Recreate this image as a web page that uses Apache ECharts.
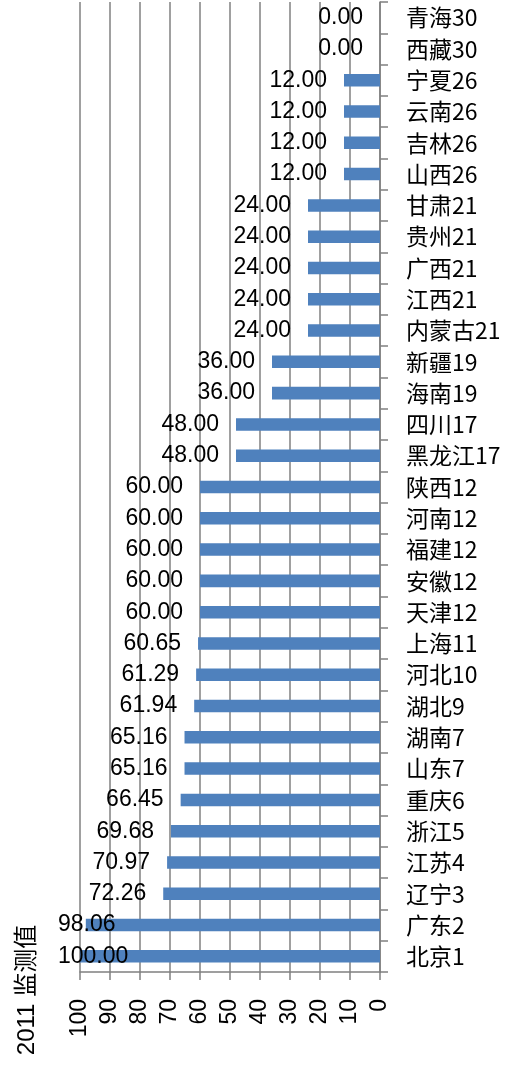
<!DOCTYPE html>
<html><head><meta charset="utf-8">
<script src="https://cdn.jsdelivr.net/npm/echarts@6/dist/echarts.min.js"></script>
<style>html,body{margin:0;padding:0;background:#fff}#c{width:512px;height:1077px}</style>
</head><body><div id="c"></div>
<script>
// bottom to top
const provinces = ['北京','广东','辽宁','江苏','浙江','重庆','山东','湖南','湖北','河北','上海','天津','安徽','福建','河南','陕西','黑龙江','四川','海南','新疆','内蒙古','江西','广西','贵州','甘肃','山西','吉林','云南','宁夏','西藏','青海'];
const ranks = [1,2,3,4,5,6,7,7,9,10,11,12,12,12,12,12,17,17,19,19,21,21,21,21,21,26,26,26,26,30,30];
const values = [100.00,98.06,72.26,70.97,69.68,66.45,65.16,65.16,61.94,61.29,60.65,60.00,60.00,60.00,60.00,60.00,48.00,48.00,36.00,36.00,24.00,24.00,24.00,24.00,24.00,12.00,12.00,12.00,12.00,0.00,0.00];
const valueTicks = [0,10,20,30,40,50,60,70,80,90,100];
const axisTitle = '2011 监测值';

const categories = provinces.map((p,i)=>p+ranks[i]);
const numFont = "'Liberation Sans','Noto Sans CJK SC',sans-serif";
const chart = echarts.init(document.getElementById('c'));
chart.setOption({
  animation:false,
  grid:{left:80,right:132,top:2,bottom:105},
  xAxis:{type:'value',min:valueTicks[0],max:valueTicks[valueTicks.length-1],interval:valueTicks[1]-valueTicks[0],inverse:true,position:'bottom',
    axisLine:{show:true,lineStyle:{color:'#808080',width:1.5}},
    axisTick:{show:true,length:8,lineStyle:{color:'#808080',width:1.5}},
    splitLine:{show:true,lineStyle:{color:'#808080',width:1.5}},
    axisLabel:{rotate:90,margin:27,fontSize:23,color:'#000',fontFamily:numFont}},
  yAxis:{type:'category',data:categories,position:'right',
    axisLine:{show:true,lineStyle:{color:'#808080',width:1.5}},
    axisTick:{show:true,length:8,lineStyle:{color:'#808080',width:1.5}},
    axisLabel:{margin:26,fontSize:23,color:'#000',fontFamily:"'Noto Sans CJK SC','Liberation Sans',sans-serif"}},
  series:[{type:'bar',data:values,barWidth:'40%',itemStyle:{color:'#4F81BD'},
    label:{show:true,position:'left',distance:17,offset:[0,2],fontSize:23,color:'#000',fontFamily:numFont,
      formatter:p=>p.value.toFixed(2)}}],
  labelLayout:function(params){
    if(params.labelRect.x<58){return {dx:58-params.labelRect.x};}
    return {};
  },
  graphic:[{type:'text',x:27,y:990,rotation:Math.PI/2,
    style:{text:axisTitle,fontSize:24,fill:'#000',fontFamily:numFont,textAlign:'center',textVerticalAlign:'middle'}}]
});
</script></body></html>
